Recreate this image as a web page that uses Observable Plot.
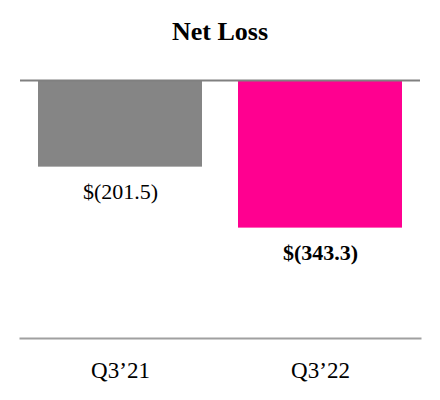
<!DOCTYPE html>
<html>
<head>
<meta charset="utf-8">
<script src="https://cdn.jsdelivr.net/npm/d3@7"></script>
<script src="https://cdn.jsdelivr.net/npm/@observablehq/plot@0.6"></script>
<style>
  html, body { margin: 0; padding: 0; background: #fff; }
  #title { width: 440px; height: 60px; line-height: 64px; text-align: center;
    font-family: "Liberation Serif", "Times New Roman", serif; font-weight: bold; font-size: 26px; color: #000; }
  #chart svg { display: block; }
</style>
</head>
<body>
<div id="title">Net Loss</div>
<div id="chart"></div>
<script>
const quarters = ["Q3\u201921", "Q3\u201922"];
const values = [-201.5, -343.3];
const valueLabels = ["$(201.5)", "$(343.3)"];
const barColors = ["#858585", "#ff0090"];
const boldLabel = [false, true];

const data = quarters.map((q, i) => ({q, v: values[i], label: valueLabels[i], color: barColors[i], bold: boldLabel[i]}));

const font = "'Liberation Serif', 'Times New Roman', serif";

const chart = Plot.plot({
  width: 440,
  height: 340,
  marginTop: 20,
  marginBottom: 62,
  marginLeft: 20,
  marginRight: 20,
  style: {fontFamily: font, fontSize: "22px", color: "#000", background: "#fff"},
  x: {domain: quarters, paddingInner: 0.18, paddingOuter: 0.09, label: null},
  y: {domain: [-600, 0], axis: null},
  marks: [
    Plot.barY(data, {x: "q", y1: 0, y2: "v", fill: "color"}),
    Plot.ruleY([0], {stroke: "#808080", strokeWidth: 2}),
    Plot.frame({anchor: "bottom", stroke: "#a0a0a0", strokeWidth: 2}),
    Plot.text(data.filter(d => !d.bold), {x: "q", y: "v", text: "label", dy: 25, lineAnchor: "middle", fontSize: 22, fill: "#000"}),
    Plot.text(data.filter(d => d.bold), {x: "q", y: "v", text: "label", dy: 25, lineAnchor: "middle", fontSize: 22, fontWeight: "bold", fill: "#000"}),
    Plot.axisX({tickSize: 0, tickPadding: 23, fontSize: 23, label: null})
  ]
});
document.getElementById("chart").appendChild(chart);
</script>
</body>
</html>
